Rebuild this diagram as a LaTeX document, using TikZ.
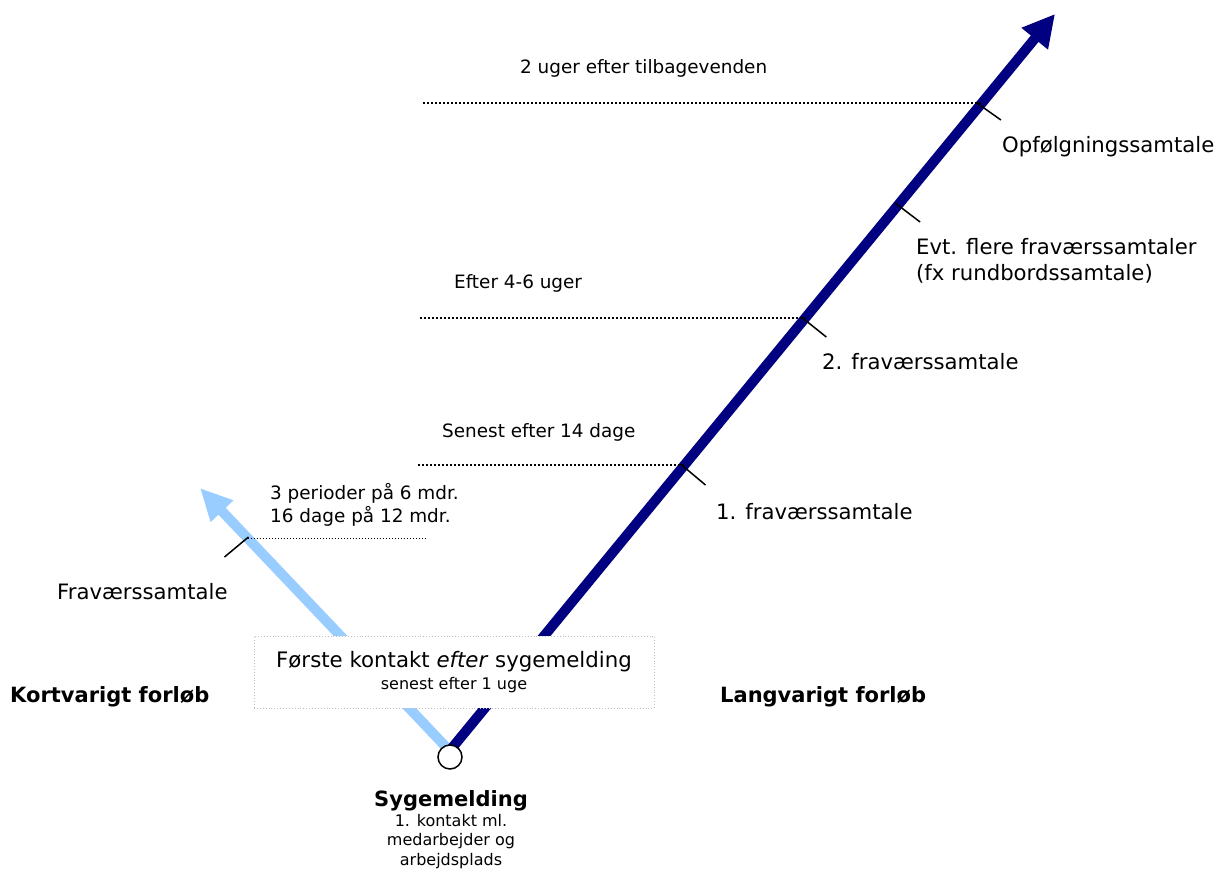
\documentclass[tikz,border=0pt]{standalone}
\usepackage{fontspec}
\setmainfont{DejaVu Sans}
\usetikzlibrary{arrows.meta,calc}
\definecolor{navyb}{RGB}{0,0,128}
\definecolor{lightb}{RGB}{153,204,255}
\begin{document}
\begin{tikzpicture}[x=1pt,y=-1pt,
  lbl/.style={inner sep=0pt, anchor=west, font=\fontsize{21.2}{25.5}\selectfont},
  sml/.style={inner sep=0pt, anchor=west, font=\fontsize{18.4}{22.5}\selectfont},
  bld/.style={inner sep=0pt, anchor=west, font=\fontsize{21}{25}\selectfont\bfseries},
  darkarrow/.style={navyb, line width=10pt, -{Triangle[length=32pt,width=32pt]}},
  lightarrow/.style={lightb, line width=10pt, -{Triangle[length=32pt,width=29pt]}},
  dotline/.style={black, line width=1.6pt, dash pattern=on 1.6pt off 2.4pt},
  finedot/.style={black, line width=1pt, dash pattern=on 1pt off 2pt},
  tickmark/.style={black, line width=1.5pt},
]
\useasboundingbox (0,0) rectangle (1218,870);

% arrow geometry
\coordinate (S1) at (452,748);
\coordinate (A) at (1055,14);
\coordinate (S2) at (447,748);
\coordinate (B) at (200,488);

\draw[lightarrow] (S2) -- (B);
\draw[darkarrow] (S1) -- (A);

% points on the arrows
\coordinate (P1) at (684.5,465);
\coordinate (P2) at (805.3,318);
\coordinate (P3) at (898.1,205);
\coordinate (P4) at (981.9,103);
\coordinate (Q1) at (247.5,538);

% dotted level lines
\coordinate (L1) at (418,465);
\coordinate (L2) at (420,318);
\coordinate (L4) at (423,103);
\coordinate (LQ) at (427,538);
\draw[dotline] (L1) -- (P1);
\draw[dotline] (L2) -- (P2);
\draw[dotline] (L4) -- (P4);
\draw[finedot] (Q1) -- (LQ);

% ticks
\draw[tickmark] ($(P1)+(-4,-1)$) -- ($(P1)+(21,20)$);
\draw[tickmark] ($(P2)+(-4,-1)$) -- ($(P2)+(21,19)$);
\draw[tickmark] ($(P3)+(-3,-2)$) -- ($(P3)+(22,17)$);
\draw[tickmark] ($(P4)+(-5,0)$) -- ($(P4)+(19,17)$);
\draw[tickmark] ($(Q1)+(1,-1)$) -- ($(Q1)+(-23,19)$);

% labels
\node[sml] (t4) at (520,68) {2 uger efter tilbagevenden};
\node[lbl] (n4) at (1002,147) {Opfølgningssamtale};
\node[lbl, align=left] (n3) at (916,261) {Evt. flere fraværssamtaler\\(fx rundbordssamtale)};
\node[sml] (t2) at (454,283) {Efter 4-6 uger};
\node[lbl] (n2) at (822,362) {2. fraværssamtale};
\node[sml] (t1) at (442,432) {Senest efter 14 dage};
\node[lbl] (n1) at (716,512) {1. fraværssamtale};
\node[sml, align=left] (tq) at (270,505) {3 perioder på 6 mdr.\\16 dage på 12 mdr.};
\node[lbl] (nq) at (57,592) {Fraværssamtale};

% box
\node[draw=gray!50, dotted, line width=0.9pt, fill=white, minimum width=400pt, minimum height=72pt, inner sep=0pt] (box) at (454,672) {};
\node[inner sep=0pt, font=\fontsize{21.3}{25}\selectfont] (boxa) at (454,662) {Første kontakt \textit{efter} sygemelding};
\node[inner sep=0pt, font=\fontsize{16}{19}\selectfont] (boxb) at (454,685) {senest efter 1 uge};

\node[bld] (kort) at (10,697) {Kortvarigt forløb};
\node[bld] (lang) at (720,697) {Langvarigt forløb};

% start circle
\node[circle, draw=black, line width=1.5pt, fill=white, minimum size=24pt, inner sep=0pt] (O) at (450,757) {};

\node[inner sep=0pt, font=\fontsize{21}{25}\selectfont\bfseries] (syg) at (451,801) {Sygemelding};
\node[inner sep=0pt, font=\fontsize{16}{19.5}\selectfont, align=center, anchor=north] (sygt) at (451,814) {1. kontakt ml.\\medarbejder og\\arbejdsplads};
\end{tikzpicture}
\end{document}
